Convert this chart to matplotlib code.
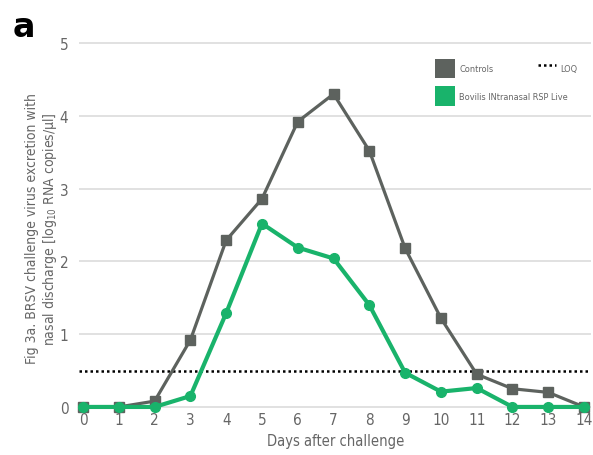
import matplotlib.pyplot as plt
from matplotlib.lines import Line2D
from matplotlib.patches import Patch

# Virus excretion per day (log10 RNA copies/µl)
days = list(range(15))
controls = [0, 0, 0.08, 0.92, 2.29, 2.86, 3.92, 4.30, 3.52, 2.18, 1.22, 0.45, 0.25, 0.20, 0]
vaccinated = [0, 0, 0, 0.15, 1.29, 2.52, 2.19, 2.04, 1.40, 0.47, 0.21, 0.26, 0, 0, 0]
loq = 0.5

gray = '#5d625e'
green = '#19b36b'
text_gray = '#666666'

plt.rcParams['font.family'] = ['DejaVu Sans']
plt.rcParams['font.stretch'] = 'condensed'

fig = plt.figure(figsize=(5.93, 4.56), dpi=100)
ax = fig.add_axes([0.134, 0.0974, 0.863, 0.814])

ax.axhline(loq, color='black', linestyle=(0, (1, 1.2)), linewidth=1.8, zorder=2)
ax.plot(days, controls, color=gray, linewidth=2.3, marker='s', markersize=7.5,
        clip_on=False, zorder=3)
ax.plot(days, vaccinated, color=green, linewidth=3, marker='o', markersize=7,
        clip_on=False, zorder=4)

ax.set_xlim(-0.1, 14.2)
ax.set_ylim(-0.05, 5.05)
ax.set_xticks(days)
ax.set_yticks(range(6))
ax.grid(axis='y', color='#dcdcdc', linewidth=1.2, zorder=0)
ax.set_axisbelow(True)
for s in ax.spines.values():
    s.set_visible(False)
ax.tick_params(length=0, labelsize=11, colors=text_gray)
ax.tick_params(axis='y', pad=8)
ax.tick_params(axis='x', pad=1)

ax.set_xlabel('Days after challenge', fontsize=10.5, color=text_gray, labelpad=4)
ax.set_ylabel('Fig 3a. BRSV challenge virus excretion with\n'
              'nasal discharge [log$_{10}$ RNA copies/µl]',
              fontsize=10, color=text_gray, linespacing=1.15)
ax.yaxis.set_label_coords(-0.04, 0.492)

# series legend (two rows) and the LOQ entry placed separately
series_leg = ax.legend([Patch(facecolor=gray, edgecolor='none'),
                        Patch(facecolor=green, edgecolor='none')],
                       ['Controls', 'Bovilis INtranasal RSP Live'],
                       loc='upper left', bbox_to_anchor=(0.678, 0.97),
                       frameon=False, fontsize=6.6, labelcolor=text_gray,
                       handlelength=2.2, handleheight=2.9, handletextpad=0.5,
                       labelspacing=0.87, borderpad=0.4)
ax.add_artist(series_leg)
ax.legend([Line2D([], [], color='black', linestyle=(0, (1, 1.2)), linewidth=1.8)],
          ['LOQ'], loc='upper right', bbox_to_anchor=(0.99, 0.97),
          frameon=False, fontsize=6.6, labelcolor=text_gray, handlelength=2.0,
          handleheight=2.9, handletextpad=0.5, borderpad=0.4)

fig.text(0.022, 0.918, 'a', fontsize=24, fontweight='bold', family='DejaVu Sans',
         fontstretch='normal')

fig.savefig('out.png', dpi=100)
